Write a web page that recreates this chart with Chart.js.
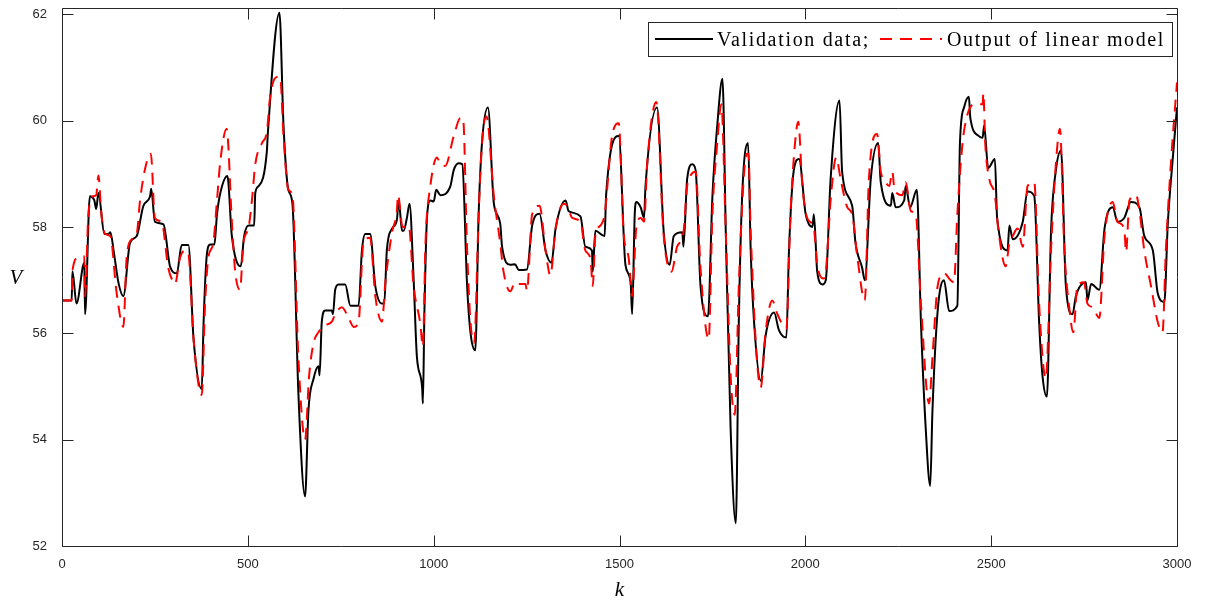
<!DOCTYPE html>
<html>
<head>
<meta charset="utf-8">
<script src="https://cdn.jsdelivr.net/npm/chart.js@4"></script>
<style>
  html, body { margin: 0; padding: 0; background: #ffffff; }
  #c { display: block; }
</style>
</head>
<body>
<canvas id="c" width="1207" height="601"></canvas>
<script>
// ---- data ----
const valK = [0,26,28,39,60,62,75,87,92,98,114,125,130,140,152,165,183,201,219,237,240,250,273,291,309,322,340,354,376,381,390,399,410,417,426,445,457,481,490,502,517,520,529,551,554,585,596,609,620,636,654,663,677,690,693,699,708,726,729,735,744,762,776,798,807,816,829,843,861,867,874,888,901,906,915,919,928,935,946,955,969,971,975,982,991,1000,1007,1018,1045,1054,1067,1077,1090,1099,1112,1121,1130,1146,1162,1179,1184,1206,1219,1229,1251,1265,1285,1301,1317,1328,1355,1363,1395,1408,1426,1428,1435,1460,1464,1498,1516,1530,1534,1541,1545,1557,1566,1570,1601,1619,1635,1646,1669,1672,1682,1696,1705,1718,1738,1750,1763,1777,1786,1799,1813,1821,1830,1846,1853,1862,1880,1893,1916,1929,1949,1956,1969,1983,2001,2019,2023,2032,2046,2055,2068,2092,2099,2126,2135,2153,2160,2176,2196,2203,2230,2234,2243,2266,2270,2282,2300,2311,2324,2336,2342,2356,2373,2387,2409,2416,2427,2440,2444,2467,2477,2481,2492,2510,2516,2544,2549,2558,2585,2598,2616,2629,2638,2650,2661,2674,2688,2701,2719,2728,2755,2759,2769,2791,2805,2827,2840,2858,2876,2899,2912,2935,2948,2966,2975,2988,3000];
const valV = [56.62,56.62,57.17,56.56,57.33,56.36,58.58,58.50,58.34,58.64,57.87,57.87,57.90,57.50,56.95,56.70,57.70,57.83,58.40,58.58,58.72,58.10,58.05,57.25,57.13,57.66,57.66,55.89,54.95,56.22,57.50,57.67,57.67,58.24,58.64,58.96,57.83,57.26,57.83,58.03,58.03,58.64,58.77,59.41,59.78,62.03,59.91,58.70,58.44,54.88,52.93,54.54,55.15,55.38,55.21,56.22,56.43,56.43,56.36,56.82,56.92,56.92,56.52,56.52,57.56,57.87,57.87,56.89,56.56,56.56,57.56,57.97,58.13,58.50,57.93,57.93,58.17,58.44,57.03,55.55,54.98,54.68,56.36,58.17,58.50,58.48,58.70,58.60,58.77,59.07,59.20,59.18,56.89,56.02,55.68,58.24,59.58,60.25,58.44,58.07,57.63,57.29,57.30,57.19,57.20,58.03,58.25,57.56,57.33,57.97,58.50,58.30,58.20,57.63,57.56,57.16,57.93,57.83,58.60,59.71,57.29,56.96,56.36,58.24,58.47,58.37,58.17,58.77,60.25,57.90,57.29,57.83,57.90,57.63,58.90,59.18,59.06,56.89,56.32,58.58,59.91,60.79,57.90,54.20,52.43,56.22,58.58,59.58,57.56,56.22,55.11,55.95,56.39,56.06,55.92,57.56,59.07,59.28,58.24,58.00,58.24,57.16,56.92,57.00,58.90,60.38,59.04,58.40,57.70,57.23,57.00,58.90,59.58,58.84,58.40,58.64,58.37,58.50,58.77,58.37,58.70,56.22,54.20,53.13,54.54,56.42,57.00,56.42,56.52,59.58,60.25,60.45,60.05,59.71,59.68,59.91,59.11,59.28,58.17,57.56,58.03,57.77,58.10,58.67,58.58,56.22,55.21,54.81,57.90,59.06,59.44,56.89,56.36,56.70,56.96,56.62,56.93,56.82,57.97,58.37,58.10,58.17,58.47,58.37,57.83,57.56,56.76,56.59,58.03,59.24,60.25];

const modK = [0,26,28,44,60,62,71,84,92,98,106,116,130,147,165,174,188,201,210,224,239,250,268,286,300,304,318,331,340,354,376,385,394,407,417,426,443,457,466,479,488,502,511,520,538,551,560,578,587,596,609,620,636,654,665,677,690,708,726,735,753,771,785,798,811,829,843,861,870,888,901,904,915,919,933,946,964,971,978,991,1009,1018,1031,1054,1072,1079,1090,1099,1109,1121,1130,1142,1162,1179,1188,1206,1219,1229,1247,1251,1265,1285,1301,1314,1328,1350,1359,1373,1395,1408,1422,1428,1435,1449,1460,1480,1498,1511,1525,1534,1545,1557,1566,1575,1599,1619,1640,1655,1672,1682,1691,1705,1718,1740,1750,1763,1774,1786,1799,1810,1821,1834,1843,1847,1853,1880,1893,1911,1925,1949,1960,1974,1981,1992,2005,2023,2032,2048,2055,2068,2083,2095,2113,2126,2140,2160,2171,2193,2203,2212,2226,2234,2240,2261,2270,2284,2297,2311,2333,2342,2356,2373,2391,2400,2409,2423,2436,2454,2477,2479,2484,2495,2510,2519,2539,2549,2558,2571,2585,2598,2616,2629,2647,2661,2674,2685,2697,2710,2721,2732,2750,2759,2773,2791,2805,2827,2840,2858,2863,2872,2890,2899,2912,2930,2948,2961,2970,2984,3000];
const modV = [56.62,56.62,57.17,57.43,57.45,56.70,58.24,58.58,58.60,58.97,58.24,57.87,57.83,56.76,56.12,57.43,57.77,57.87,58.50,59.11,59.38,58.17,58.10,57.23,56.96,56.93,57.43,57.56,57.50,55.89,54.84,56.56,57.43,57.70,58.50,59.24,59.85,58.10,57.16,56.82,57.70,57.99,58.50,59.18,59.58,59.78,60.45,60.82,60.82,59.71,58.70,58.60,55.55,54.00,55.21,55.82,56.02,56.15,56.22,56.36,56.49,56.29,56.12,56.22,57.70,57.80,56.70,56.22,56.96,57.90,58.30,58.60,58.03,58.00,58.03,56.89,56.18,55.75,57.70,58.77,59.31,59.18,59.15,59.71,60.05,60.05,57.56,56.22,55.82,58.24,59.58,60.08,58.58,57.70,57.16,56.79,56.96,56.93,56.93,56.80,58.24,58.40,57.56,57.09,57.97,58.44,58.40,58.17,58.10,57.56,57.40,56.89,57.83,58.03,58.24,59.71,59.95,57.90,57.40,56.70,57.97,58.17,58.10,59.24,60.35,57.83,57.16,57.63,57.90,58.77,58.97,59.04,57.23,55.89,58.24,59.58,60.31,57.90,55.21,54.47,56.89,58.90,59.38,59.38,57.90,54.98,56.02,56.62,56.36,56.09,58.24,59.71,59.98,58.77,58.17,57.97,57.30,57.03,57.16,58.50,59.31,58.90,58.37,58.24,57.43,56.62,58.90,59.75,59.04,58.90,58.77,59.04,58.70,58.60,58.84,58.30,58.24,56.56,54.68,55.55,56.89,57.13,57.00,56.96,58.24,59.58,60.11,60.31,60.31,60.52,59.58,58.90,58.60,57.97,57.26,57.70,57.83,57.97,57.63,58.77,58.84,56.56,55.15,57.56,59.18,59.85,57.56,56.49,56.02,56.89,56.96,56.56,56.49,56.29,57.83,58.47,58.10,57.97,57.53,58.50,58.60,58.30,57.56,56.89,56.22,56.02,57.56,59.24,60.72];

const xTicks = [0, 500, 1000, 1500, 2000, 2500, 3000];
const yTicks = [52, 54, 56, 58, 60, 62];
const seriesLabels = ['Validation data;', 'Output of linear model'];
const xTitle = 'k';
const yTitle = 'V';

// ---- styles ----
const AX = '#262626';
const tickFont = { family: "'Liberation Sans', Arial, sans-serif", size: 13 };

const toPts = (ks, vs) => ks.map((k, i) => ({ x: k, y: vs[i] }));

const frame = {
  id: 'frame',
  afterDraw(chart) {
    const { ctx, chartArea: ca, scales: { x, y } } = chart;
    const L = Math.round(ca.left) + 0.5, R = Math.round(ca.right) + 0.5;
    const T = Math.round(ca.top) + 0.5, B = Math.round(ca.bottom) + 0.5;
    const tl = 11;
    ctx.save();
    ctx.strokeStyle = AX; ctx.lineWidth = 1;
    ctx.beginPath();
    ctx.rect(L, T, R - L, B - T);
    x.ticks.forEach(t => {
      const px = Math.round(x.getPixelForValue(t.value)) + 0.5;
      ctx.moveTo(px, B); ctx.lineTo(px, B - tl);
      ctx.moveTo(px, T); ctx.lineTo(px, T + tl);
    });
    y.ticks.forEach(t => {
      const py = Math.round(y.getPixelForValue(t.value)) + 0.5;
      ctx.moveTo(L, py); ctx.lineTo(L + tl, py);
      ctx.moveTo(R, py); ctx.lineTo(R - tl, py);
    });
    ctx.stroke();

    // axis titles
    ctx.fillStyle = '#000';
    ctx.font = "italic 21px 'Liberation Serif', 'Times New Roman', serif";
    ctx.textAlign = 'center'; ctx.textBaseline = 'alphabetic';
    ctx.fillText(xTitle, (ca.left + ca.right) / 2, 596);
    ctx.fillText(yTitle, 16, 284);

    // legend
    const bx = 648.5, by = 22.5, bw = 524, bh = 34;
    ctx.fillStyle = '#fff';
    ctx.fillRect(bx, by, bw, bh);
    ctx.strokeStyle = AX; ctx.lineWidth = 1;
    ctx.strokeRect(bx, by, bw, bh);
    const ds = chart.data.datasets;
    const black = ds.find(d => d.label === seriesLabels[0]);
    const red = ds.find(d => d.label === seriesLabels[1]);
    const ly = 39;
    ctx.lineWidth = 2;
    ctx.strokeStyle = black.borderColor; ctx.setLineDash([]);
    ctx.beginPath(); ctx.moveTo(655, ly); ctx.lineTo(713, ly); ctx.stroke();
    ctx.strokeStyle = red.borderColor; ctx.setLineDash(red.borderDash);
    ctx.beginPath(); ctx.moveTo(880, ly); ctx.lineTo(942, ly); ctx.stroke();
    ctx.setLineDash([]);
    ctx.fillStyle = '#000';
    ctx.font = "20px 'Liberation Serif', 'Times New Roman', serif";
    ctx.textAlign = 'left'; ctx.textBaseline = 'alphabetic';
    const drawFit = (txt, x0, w) => {
      ctx.letterSpacing = '0px';
      const m = ctx.measureText(txt).width;
      const sp = Math.max(0, (w - m) / txt.length);
      ctx.letterSpacing = sp.toFixed(2) + 'px';
      ctx.fillText(txt, x0, 46);
      ctx.letterSpacing = '0px';
    };
    drawFit(seriesLabels[0], 717, 153);
    drawFit(seriesLabels[1], 947, 218);
    ctx.restore();
  }
};

new Chart(document.getElementById('c'), {
  type: 'line',
  data: {
    datasets: [
      {
        label: seriesLabels[1],
        data: toPts(modK, modV),
        borderColor: '#ff0000',
        borderWidth: 2,
        borderDash: [12, 8],
        pointRadius: 0,
        fill: false,
        cubicInterpolationMode: 'monotone',
        order: 0
      },
      {
        label: seriesLabels[0],
        data: toPts(valK, valV),
        borderColor: '#000000',
        borderWidth: 2,
        pointRadius: 0,
        fill: false,
        cubicInterpolationMode: 'monotone',
        order: 1
      }
    ]
  },
  options: {
    responsive: false,
    animation: false,
    devicePixelRatio: 1,
    layout: { padding: { left: 0, right: 30, top: 8, bottom: 0 } },
    plugins: { legend: { display: false }, tooltip: { enabled: false } },
    scales: {
      x: {
        type: 'linear', min: 0, max: 3000,
        grid: { display: false }, border: { display: false },
        ticks: { font: tickFont, color: AX, padding: 3, maxRotation: 0, autoSkip: false,
                 callback: v => String(v) },
        afterBuildTicks: s => { s.ticks = xTicks.map(v => ({ value: v })); },
        afterFit: s => { s.height = 55; s.paddingLeft = 0; s.paddingRight = 0; }
      },
      y: {
        type: 'linear', min: 52, max: 62.12,
        grid: { display: false }, border: { display: false },
        ticks: { font: tickFont, color: AX, padding: 7, autoSkip: false,
                 callback: v => String(v) },
        afterBuildTicks: s => { s.ticks = yTicks.map(v => ({ value: v })); },
        afterFit: s => { s.width = 62; s.paddingTop = 0; s.paddingBottom = 0; }
      }
    }
  },
  plugins: [frame]
});
</script>
</body>
</html>
